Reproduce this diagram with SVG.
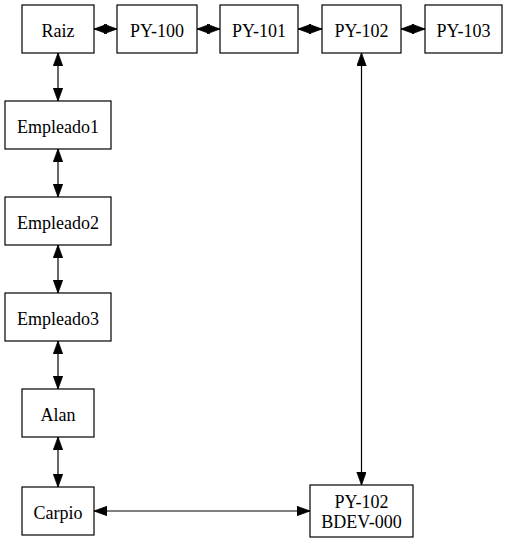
<svg xmlns="http://www.w3.org/2000/svg" width="509" height="543" viewBox="0 0 509 543">
<style>
  .node rect { fill: #ffffff; stroke: #000000; stroke-width: 1.2; }
  .node text { font-family: 'Liberation Serif', 'Times New Roman', serif; font-size: 18px; fill: #000000; text-anchor: middle; }
  .edges line { stroke: #000000; stroke-width: 1.2; marker-start: url(#ah); marker-end: url(#ah); }
</style>
<defs>
  <marker id="ah" markerUnits="userSpaceOnUse" markerWidth="14" markerHeight="10" refX="13" refY="4.7" orient="auto-start-reverse">
    <path d="M0,0 L13,4.7 L0,9.4 Z" fill="#000000" stroke="#000000" stroke-width="0.8"/>
  </marker>
</defs>
<rect width="509" height="543" fill="#ffffff"/>
<g class="edges" id="connectors">
  <line x1="94" y1="29" x2="117" y2="29"/>
  <line x1="197" y1="29" x2="220" y2="29"/>
  <line x1="298" y1="29" x2="322" y2="29"/>
  <line x1="401" y1="29" x2="425" y2="29"/>
  <line x1="58" y1="53" x2="58" y2="101"/>
  <line x1="58" y1="149" x2="58" y2="197"/>
  <line x1="58" y1="245" x2="58" y2="293"/>
  <line x1="58" y1="341" x2="58" y2="389"/>
  <line x1="58" y1="437" x2="58" y2="487"/>
  <line x1="94" y1="511" x2="310" y2="511"/>
  <line x1="361.5" y1="53" x2="361.5" y2="485"/>
</g>
<g class="node" id="raiz"><rect x="22" y="5" width="72" height="48"/><text x="58" y="36.5">Raiz</text></g>
<g class="node" id="py100"><rect x="117" y="5" width="80" height="48"/><text x="157" y="36.5">PY-100</text></g>
<g class="node" id="py101"><rect x="220" y="5" width="78" height="48"/><text x="259" y="36.5">PY-101</text></g>
<g class="node" id="py102"><rect x="322" y="5" width="79" height="48"/><text x="361.5" y="36.5">PY-102</text></g>
<g class="node" id="py103"><rect x="425" y="5" width="77" height="48"/><text x="463.5" y="36.5">PY-103</text></g>
<g class="node" id="empleado1"><rect x="5" y="101" width="106" height="48"/><text x="58" y="133">Empleado1</text></g>
<g class="node" id="empleado2"><rect x="5" y="197" width="106" height="48"/><text x="58" y="229">Empleado2</text></g>
<g class="node" id="empleado3"><rect x="5" y="293" width="106" height="48"/><text x="58" y="325">Empleado3</text></g>
<g class="node" id="alan"><rect x="22" y="389" width="72" height="48"/><text x="58" y="421">Alan</text></g>
<g class="node" id="carpio"><rect x="22" y="487" width="72" height="48"/><text x="58" y="518.5">Carpio</text></g>
<g class="node" id="py102bdev"><rect x="310" y="485" width="103" height="52"/><text x="361.5" y="508">PY-102</text><text x="361.5" y="528">BDEV-000</text></g>
</svg>
